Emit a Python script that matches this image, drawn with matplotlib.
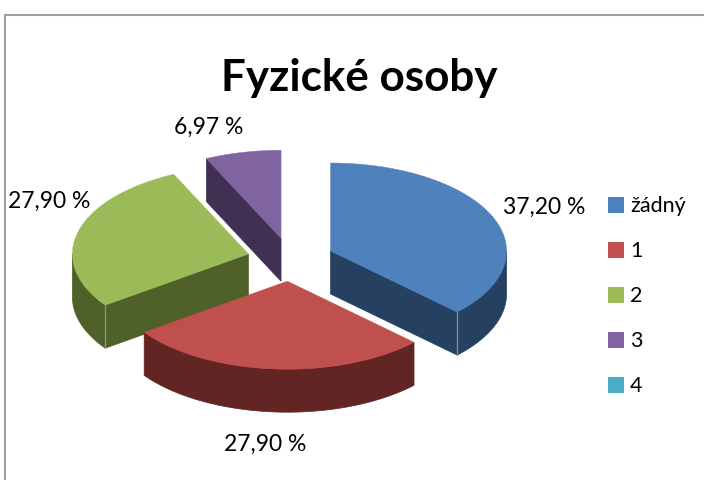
import numpy as np
import matplotlib
matplotlib.use("Agg")
import matplotlib.pyplot as plt
from matplotlib.patches import Rectangle

# data
title = "Fyzické osoby"
categories = ["žádný", "1", "2", "3", "4"]
values = [37.20, 27.90, 27.90, 6.97, 0.0]
label_anchor = [(544.5, 207), (265, 444), (49.5, 201), (209, 127)]

# style
top_colors = ["#4F81BD", "#C0504D", "#9BBB59", "#8064A2", "#4BACC6"]
side_colors = ["#254061", "#632523", "#4F6028", "#403152", "#205867"]
edge_colors = ["#7C93AD", "#8A5F5D", "#8C9B70", "#75678A", "#5F8C98"]
FONT = "Lato"

# pie geometry in pixels
CX, CY = 290.5, 259.5
RX, RY = 176.0, 88.0
EXPLODE = 43.5
DEPTH = 43.0

fig = plt.figure(figsize=(7.04, 4.8), dpi=100)
ax = fig.add_axes([0, 0, 1, 1])
ax.set_xlim(0, 704)
ax.set_ylim(480, 0)
ax.axis("off")

# chart frame (top and left edges visible in the crop)
ax.plot([4.5, 4.5, 704], [480, 14.5, 14.5], color="#A0A0A0", lw=1.5,
        solid_joinstyle="miter", solid_capstyle="butt")

total = sum(values)
bounds = np.concatenate([[0], np.cumsum(values)]) / total * 2 * np.pi


def project(theta, ox, oy):
    return ox + RX * np.sin(theta), oy - RY * np.cos(theta)


# paint from back to front: 3, 2, žádný, 1
for layer, i in enumerate([3, 2, 0, 1]):
    a0, a1 = bounds[i], bounds[i + 1]
    mid = (a0 + a1) / 2
    ox = CX + EXPLODE * np.sin(mid)
    oy = CY - EXPLODE * RY / RX * np.cos(mid)
    th = np.linspace(a0, a1, 200)
    ex, ey = project(th, ox, oy)
    sc = side_colors[i]
    z = 1 + layer

    # outer wall: only the part of the arc that faces the viewer
    lo, hi = max(a0, np.pi / 2), min(a1, 3 * np.pi / 2)
    if hi > lo:
        tf = np.linspace(lo, hi, 200)
        fx, fy = project(tf, ox, oy)
        ax.fill(np.r_[fx, fx[::-1]], np.r_[fy, fy[::-1] + DEPTH],
                facecolor=sc, edgecolor=sc, lw=0.5, zorder=z)

    # cut faces that face the viewer
    for ang, normal, (px, py) in [(a0, a0 - np.pi / 2, (ex[0], ey[0])),
                                  (a1, a1 + np.pi / 2, (ex[-1], ey[-1]))]:
        if np.cos(normal) < 0:
            ax.fill([ox, px, px, ox], [oy, py, py + DEPTH, oy + DEPTH],
                    facecolor=sc, edgecolor=sc, lw=0.5, zorder=z)
            if np.cos(ang) < 0:
                ax.plot([px, px], [py, py + DEPTH], color=edge_colors[i],
                        lw=0.9, zorder=z + 0.2)

    # top face
    ax.fill(np.r_[ox, ex], np.r_[oy, ey], facecolor=top_colors[i],
            edgecolor=top_colors[i], lw=0.3, zorder=z + 0.4)

# title
ax.text(359, 78.5, title, fontsize=31.7, fontweight="bold", family=FONT,
        ha="center", va="center", color="black", zorder=10)

# data labels
for v, (lx, ly) in zip(values, label_anchor):
    ax.text(lx, ly, f"{v:.2f} %".replace(".", ","), fontsize=16.5, family=FONT,
            ha="center", va="center", color="black", zorder=10)

# legend
for k, (name, col) in enumerate(zip(categories, top_colors)):
    yc = 204.5 + 45 * k
    ax.add_patch(Rectangle((608, yc - 8), 16, 16, facecolor=col,
                           edgecolor="none", zorder=10))
    ax.text(630, yc + 1.5, name, fontsize=15.5, family=FONT, ha="left",
            va="center", color="black", zorder=10)

fig.savefig("out.png", dpi=100)
